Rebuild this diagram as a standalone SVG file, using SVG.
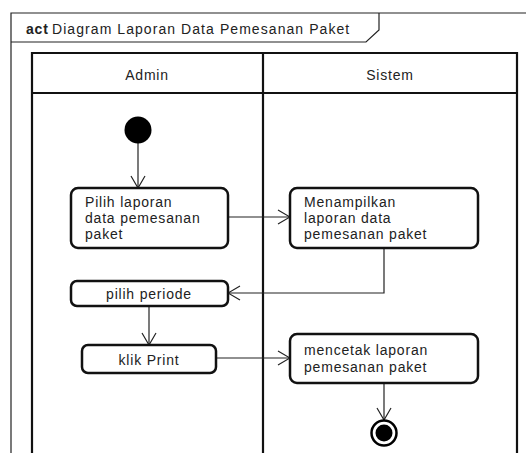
<svg xmlns="http://www.w3.org/2000/svg" width="526" height="453" viewBox="0 0 526 453">
<defs>
<marker id="open" viewBox="0 0 14 16" refX="13" refY="8" markerWidth="14" markerHeight="16" markerUnits="userSpaceOnUse" orient="auto">
<path d="M1,1 L13,8 L1,15" fill="none" stroke="#222" stroke-width="1.2"/>
</marker>
<style>
text{font-family:"Liberation Sans",Arial,sans-serif;font-size:14px;letter-spacing:0.8px;fill:#222}
.act{fill:#fff;stroke:#111;stroke-width:2.5}
.lane{fill:none;stroke:#111;stroke-width:2.2}
.edge{fill:none;stroke:#222;stroke-width:1.2;marker-end:url(#open)}
</style>
</defs>
<rect width="526" height="453" fill="#fff"/>
<g id="frame">
<path d="M11,453 V13 H526" fill="none" stroke="#222" stroke-width="1.2"/>
<path d="M11,42 H366 L379,30 V13" fill="none" stroke="#222" stroke-width="1.2"/>
<text x="26" y="34" font-weight="bold" letter-spacing="0.3">act</text>
<text x="52" y="34" textLength="298" lengthAdjust="spacing">Diagram Laporan Data Pemesanan Paket</text>
</g>
<g id="swimlanes">
<path class="lane" d="M32,453 V53 H517 V453 M263,53 V453 M32,93 H517"/>
<text x="147" y="80" text-anchor="middle">Admin</text>
<text x="390" y="80" text-anchor="middle">Sistem</text>
</g>
<g id="connectors">
<path class="edge" d="M138,143 V188"/>
<path class="edge" d="M228,217 H290"/>
<path class="edge" d="M384,248 V293 H228"/>
<path class="edge" d="M149,306 V345"/>
<path class="edge" d="M216,358 H290"/>
<path class="edge" d="M384,383 V420"/>
</g>
<g id="start"><circle cx="138" cy="130" r="13.5" fill="#000"/></g>
<g id="pilih-laporan">
<rect class="act" x="71" y="188" width="157" height="60" rx="7"/>
<text x="85" y="207">Pilih laporan</text>
<text x="85" y="223">data pemesanan</text>
<text x="85" y="239">paket</text>
</g>
<g id="menampilkan">
<rect class="act" x="290" y="188" width="188" height="60" rx="7"/>
<text x="304" y="207">Menampilkan</text>
<text x="304" y="223">laporan data</text>
<text x="304" y="239">pemesanan paket</text>
</g>
<g id="pilih-periode">
<rect class="act" x="71" y="281" width="157" height="25" rx="6"/>
<text x="149" y="299" text-anchor="middle">pilih periode</text>
</g>
<g id="klik-print">
<rect class="act" x="82" y="345" width="134" height="28" rx="6"/>
<text x="149" y="365" text-anchor="middle">klik Print</text>
</g>
<g id="mencetak">
<rect class="act" x="290" y="334" width="188" height="49" rx="7"/>
<text x="304" y="355">mencetak laporan</text>
<text x="304" y="372">pemesanan paket</text>
</g>
<g id="end">
<circle cx="384" cy="433" r="12.5" fill="#fff" stroke="#000" stroke-width="2.5"/>
<circle cx="384" cy="433" r="8.5" fill="#000"/>
</g>
</svg>
